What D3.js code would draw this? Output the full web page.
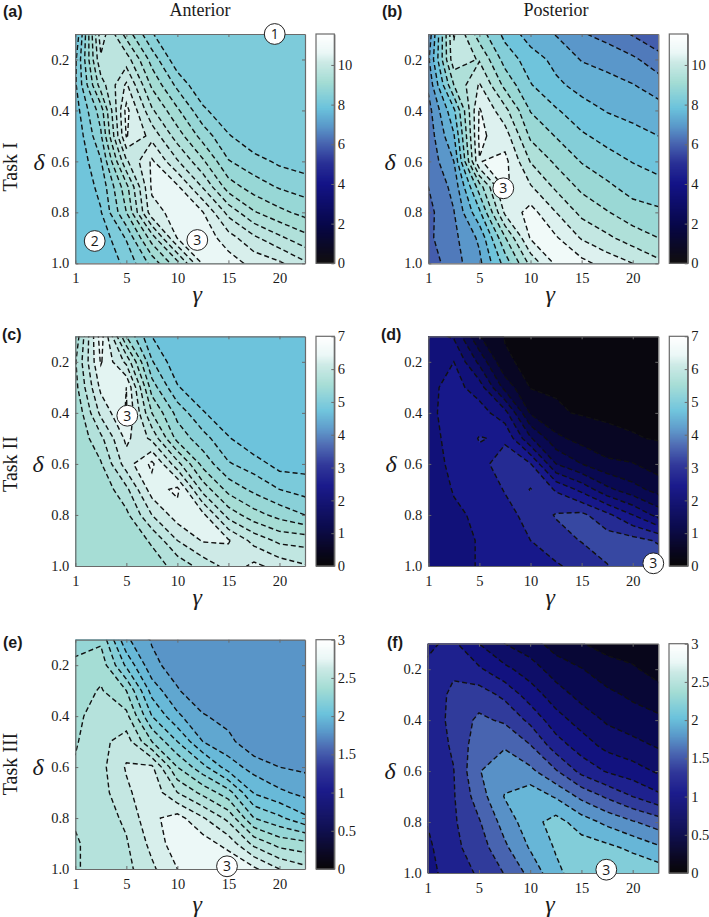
<!DOCTYPE html>
<html><head><meta charset="utf-8">
<script src="https://cdn.jsdelivr.net/npm/d3@7"></script>
<style>html,body{margin:0;padding:0;background:#fff}svg{display:block}text{font-family:"Liberation Serif",serif;fill:#1a1a1a}</style>
</head><body><svg id="c" width="709" height="917"></svg>
<script>
const gammaGrid=[1,2.5,5,7.5,10,12.5,15,17.5,20,22.5];
const deltaGrid=[0.1,0.2,0.3,0.4,0.5,0.6,0.7,0.8,0.9,1.0];
const gammaTicks=[1,5,10,15,20];
const deltaTicks=[0.2,0.4,0.6,0.8,1.0];

const gridA=[
[7.68,9.98,9.08,8.32,8.03,8.03,8.03,8.03,8.03,8.03],
[7.93,9.75,9.65,8.78,8.09,8.03,8.03,8.03,8.03,8.03],
[7.95,9.35,10.15,9.14,8.52,8.03,8.03,8.03,8.03,8.03],
[7.85,8.75,10.5,9.55,8.95,8.37,8.03,8.03,8.03,8.03],
[7.75,8.55,10.42,10.0,9.35,8.77,8.33,8.05,8.03,8.03],
[7.72,8.27,9.75,10.45,9.83,9.25,8.62,8.42,8.24,8.15],
[7.75,8.08,9.1,10.45,10.45,9.77,9.05,8.75,8.57,8.46],
[7.75,7.98,8.9,10.3,10.5,10.41,9.7,9.23,8.98,8.8],
[7.73,7.8,8.33,9.35,10.42,10.6,10.23,9.86,9.56,9.3],
[7.72,7.78,8.07,8.7,9.4,10.45,10.55,10.3,10.15,9.85]];
const gridB=[
[6.6,10.05,8.75,7.85,7.25,6.97,6.55,6.3,5.95,5.6],
[6.9,9.85,9.45,8.3,7.75,7.35,6.97,6.85,6.6,6.2],
[6.6,9.0,10.05,8.85,8.03,7.6,7.33,7.15,7.02,6.75],
[6.3,7.9,10.55,9.65,8.47,8.05,7.7,7.47,7.35,7.2],
[6.2,7.45,10.6,10.25,8.9,8.47,8.07,7.83,7.65,7.5],
[6.15,7.0,10.48,10.65,9.47,8.9,8.47,8.2,7.98,7.83],
[6.0,6.65,8.75,10.6,10.05,9.4,8.88,8.6,8.3,8.15],
[5.85,6.48,7.9,10.1,10.7,10.0,9.36,9.03,8.72,8.6],
[5.9,6.37,7.1,8.95,10.55,10.55,9.95,9.6,9.25,9.0],
[5.7,6.3,6.88,8.2,9.65,10.6,10.65,10.3,10.0,9.62]];
const gridC=[
[5.45,6.5,5.4,4.8,4.62,4.62,4.62,4.62,4.62,4.62],
[5.58,6.42,5.95,5.02,4.65,4.62,4.62,4.62,4.62,4.62],
[5.53,6.25,6.4,5.3,4.82,4.62,4.62,4.62,4.62,4.62],
[5.42,6.05,6.42,5.6,5.13,4.82,4.62,4.62,4.62,4.62],
[5.42,5.75,6.25,5.95,5.33,5.08,4.82,4.62,4.62,4.62],
[5.42,5.58,6.1,6.45,5.87,5.33,5.02,4.9,4.72,4.72],
[5.42,5.45,5.75,6.3,6.45,5.72,5.33,5.15,5.0,4.92],
[5.42,5.42,5.55,6.0,6.3,6.25,5.72,5.48,5.33,5.2],
[5.42,5.42,5.45,5.63,6.0,6.22,6.22,5.93,5.75,5.72],
[5.42,5.42,5.42,5.5,5.67,5.88,6.07,6.25,6.12,6.02]];
const gridD=[
[1.95,1.75,0.62,0.18,0.1,0.1,0.06,0.05,0.05,0.05],
[2.0,2.2,1.3,0.25,0.12,0.12,0.08,0.07,0.06,0.06],
[2.09,2.35,2.0,0.85,0.18,0.17,0.11,0.1,0.09,0.08],
[2.1,2.38,2.38,1.95,0.55,0.24,0.17,0.15,0.14,0.12],
[2.07,2.33,2.62,2.55,1.45,0.7,0.45,0.28,0.22,0.18],
[2.05,2.28,2.5,2.75,2.62,1.4,1.0,0.7,0.62,0.4],
[2.0,2.22,2.3,2.63,3.02,2.55,2.08,1.5,1.15,0.85],
[2.0,2.15,2.25,2.45,2.75,3.03,3.1,2.7,2.2,1.65],
[2.0,2.1,2.22,2.35,2.6,2.85,3.02,3.2,3.15,2.95],
[2.0,2.05,2.23,2.3,2.35,2.55,2.75,2.98,3.3,3.3]];
const gridE=[
[2.26,2.28,1.92,1.79,1.72,1.72,1.72,1.72,1.72,1.72],
[2.32,2.36,2.08,1.83,1.75,1.72,1.72,1.72,1.72,1.72],
[2.35,2.41,2.3,1.96,1.81,1.72,1.72,1.72,1.72,1.72],
[2.38,2.44,2.43,2.1,1.92,1.81,1.76,1.72,1.72,1.72],
[2.39,2.47,2.55,2.3,2.1,1.9,1.83,1.72,1.72,1.72],
[2.41,2.47,2.61,2.62,2.3,2.13,1.95,1.86,1.8,1.78],
[2.42,2.46,2.58,2.67,2.5,2.37,2.24,1.99,1.92,1.87],
[2.41,2.45,2.52,2.68,2.74,2.61,2.47,2.2,2.12,2.02],
[2.39,2.44,2.49,2.63,2.76,2.75,2.66,2.47,2.36,2.33],
[2.39,2.44,2.47,2.58,2.7,2.82,2.8,2.72,2.6,2.53]];
const gridF=[
[0.97,1.04,0.8,0.6,0.48,0.32,0.21,0.13,0.12,0.1],
[1.03,1.15,1.03,0.85,0.7,0.5,0.41,0.28,0.22,0.14],
[1.03,1.26,1.3,1.15,0.9,0.7,0.53,0.45,0.36,0.26],
[1.05,1.27,1.44,1.37,1.15,0.88,0.72,0.57,0.5,0.45],
[1.06,1.23,1.52,1.58,1.41,1.1,0.9,0.74,0.66,0.58],
[1.05,1.19,1.59,1.72,1.65,1.42,1.14,0.98,0.89,0.77],
[1.04,1.18,1.5,1.81,1.93,1.78,1.55,1.37,1.2,1.05],
[1.01,1.17,1.38,1.68,1.92,2.08,1.9,1.75,1.62,1.5],
[0.96,1.15,1.3,1.56,1.82,2.02,2.1,2.05,1.95,1.83],
[0.92,1.12,1.22,1.41,1.66,1.95,2.12,2.18,2.18,2.12]];

const levelsA=[7.7,8.0,8.3,8.6,8.9,9.2,9.5,9.8,10.1,10.4];
const levelsB=[6,6.5,7,7.5,8,8.5,9,9.5,10,10.5];
const levelsC=[4.8,5,5.2,5.4,5.6,5.8,6,6.2,6.4];
const levelsD=[0.2,0.6,1,1.4,1.8,2.2,2.6,3];
const levelsE=[1.8,1.9,2,2.1,2.2,2.3,2.4,2.5,2.6,2.7];
const levelsF=[0.2,0.4,0.6,0.8,1,1.2,1.4,1.6,1.8,2];

const colorStops=[0,0.06,0.17,0.35,0.44,0.53,0.6,0.68,0.79,0.88,0.92,1];
const colorValues=["#0a0808","#08061c","#08084a","#141488","#2a3196","#4a68b2","#5a98ca","#6cc3dc","#a3dcd4","#cdeae6","#eaf7f6","#ffffff"];
const barTicksA=[0,2,4,6,8,10];
const barTicksC=[0,1,2,3,4,5,6,7];
const barTicksE=[0,0.5,1,1.5,2,2.5,3];

const panels=[
{tag:"(a)",tx:3,ty:17,grid:gridA,levels:levelsA,max:11.56,bar:barTicksA,x0:75.3,x1:305,y0:34,y1:263.3,bx0:316,bx1:334.3,dl:39,gy:39,marks:[["1",274.7,34],["2",94.7,241],["3",197.3,240]]},
{tag:"(b)",tx:382,ty:17,grid:gridB,levels:levelsB,max:11.56,bar:barTicksA,x0:428.3,x1:658.3,y0:34,y1:263.3,bx0:669.3,bx1:687.7,dl:390,gy:39,marks:[["3",503.3,188.3]]},
{tag:"(c)",tx:2,ty:340,grid:gridC,levels:levelsC,max:7,bar:barTicksC,x0:75.3,x1:305,y0:336.3,y1:566,bx0:316,bx1:334.3,dl:38,gy:39,marks:[["3",127.3,415.7]]},
{tag:"(d)",tx:381,ty:340,grid:gridD,levels:levelsD,max:7,bar:barTicksC,x0:428.3,x1:658.3,y0:336.3,y1:566,bx0:669.3,bx1:687.7,dl:391,gy:39,marks:[["3",653.3,563.3]]},
{tag:"(e)",tx:3,ty:648,grid:gridE,levels:levelsE,max:3,bar:barTicksE,x0:75.3,x1:305,y0:639.7,y1:869,bx0:316,bx1:334.3,dl:38,gy:43,marks:[["3",227,866.3]]},
{tag:"(f)",tx:387,ty:648,grid:gridF,levels:levelsF,max:3,bar:barTicksE,x0:427.7,x1:658.3,y0:643.7,y1:873,bx0:669,bx1:687.7,dl:390,gy:39,marks:[["3",606.3,869.7]]}
];

const svg=d3.select("#c");
const ramp=d3.scaleLinear().domain(colorStops).range(colorValues).clamp(true);
const frame="#6a6a6a";
panels.forEach((p,pi)=>{
  const g=svg.append("g");
  const x=d3.scaleLinear().domain([0,gammaGrid.length-1]).range([p.x0,p.x1]);
  const y=d3.scaleLinear().domain([0,deltaGrid.length-1]).range([p.y0,p.y1]);
  const flat=p.grid.flat();
  const nx=gammaGrid.length, ny=deltaGrid.length;
  const proj=d3.geoTransform({point(a,b){this.stream.point(x(a-0.5),y(b-0.5));}});
  const path=d3.geoPath(proj);
  const step=p.levels[1]-p.levels[0];
  const col=v=>ramp(v/p.max);
  const id="clip"+pi;
  svg.append("clipPath").attr("id",id).append("rect").attr("x",p.x0).attr("y",p.y0).attr("width",p.x1-p.x0).attr("height",p.y1-p.y0);
  const plot=g.append("g").attr("clip-path",`url(#${id})`);
  plot.append("rect").attr("x",p.x0).attr("y",p.y0).attr("width",p.x1-p.x0).attr("height",p.y1-p.y0).attr("fill",col(p.levels[0]-step*0.15));
  const conts=d3.contours().size([nx,ny]).thresholds(p.levels)(flat);
  plot.selectAll("path.f").data(conts).join("path").attr("class","f").attr("d",path)
    .attr("fill",d=>col(d.value+step*0.85)).attr("stroke","none");
  plot.selectAll("path.l").data(conts).join("path").attr("class","l").attr("d",path)
    .attr("fill","none").attr("stroke","#111").attr("stroke-width",1.4).attr("stroke-dasharray","5,3");

  const gi=gammaTicks.map(v=>gammaGrid.indexOf(v));
  const di=deltaTicks.map(v=>deltaGrid.indexOf(v));
  const style=(s)=>{s.selectAll(".domain").attr("stroke",frame).attr("stroke-width",1.2);
    s.selectAll(".tick line").attr("stroke",frame);
    s.selectAll("text").attr("font-size",14.5).style("font-family",'"Liberation Serif",serif').style("fill","#1a1a1a");};
  g.append("g").attr("transform",`translate(0,${p.y1})`).call(d3.axisBottom(x).tickValues(gi).tickFormat(i=>gammaGrid[i]).tickSizeInner(-3).tickSizeOuter(0).tickPadding(9.5)).call(style);
  g.append("g").attr("transform",`translate(0,${p.y0})`).call(d3.axisTop(x).tickValues(gi).tickFormat("").tickSizeInner(-3).tickSizeOuter(0)).call(style);
  g.append("g").attr("transform",`translate(${p.x0},0)`).call(d3.axisLeft(y).tickValues(di).tickFormat(i=>deltaGrid[i].toFixed(1)).tickSizeInner(-3).tickSizeOuter(0).tickPadding(6)).call(style);
  g.append("g").attr("transform",`translate(${p.x1},0)`).call(d3.axisRight(y).tickValues(di).tickFormat("").tickSizeInner(-3).tickSizeOuter(0)).call(style);

  const by=d3.scaleLinear().domain([0,p.max]).range([p.y1,p.y0]);
  const barVals=d3.range(0,230);
  g.append("g").selectAll("rect").data(barVals).join("rect")
    .attr("x",p.bx0).attr("width",p.bx1-p.bx0)
    .attr("y",i=>by((i+1)/230*p.max)).attr("height",i=>by(i/230*p.max)-by((i+1)/230*p.max)+0.6)
    .attr("fill",i=>ramp((i+0.5)/230));
  g.append("g").attr("transform",`translate(${p.bx1},0)`).call(d3.axisRight(by).tickValues(p.bar).tickFormat(d=>d).tickSizeInner(-3).tickSizeOuter(0).tickPadding(3.5)).call(style);
  g.append("rect").attr("x",p.bx0).attr("y",p.y0).attr("width",p.bx1-p.bx0).attr("height",p.y1-p.y0).attr("fill","none").attr("stroke",frame).attr("stroke-width",1.2);

  g.append("text").attr("x",(p.x0+p.x1)/2+7).attr("y",p.y1+p.gy).attr("text-anchor","middle").attr("font-size",24).attr("font-style","italic").text("γ");
  g.append("text").attr("x",p.dl).attr("y",(p.y0+p.y1)/2+21).attr("text-anchor","middle").attr("font-size",24).attr("font-style","italic").text("δ");
  g.append("text").attr("x",p.tx).attr("y",p.ty).attr("font-size",16).attr("font-weight","bold").style("font-family",'"Liberation Sans",sans-serif').text(p.tag);
  p.marks.forEach(m=>{
    g.append("circle").attr("cx",m[1]).attr("cy",m[2]).attr("r",10.4).attr("fill","#fff").attr("stroke","#222").attr("stroke-width",1);
    g.append("text").attr("x",m[1]).attr("y",m[2]+5).attr("text-anchor","middle").attr("font-size",14).style("font-family",'"Open Sans",sans-serif').text(m[0]);
  });
});
const title=(t,x,y)=>svg.append("text").attr("x",x).attr("y",y).attr("text-anchor","middle").attr("font-size",18).text(t);
title("Anterior",200,16);title("Posterior",556,16);
[["Task I",167],["Task II",464],["Task III",764]].forEach(d=>{
  svg.append("text").attr("transform",`translate(17,${d[1]}) rotate(-90)`).attr("text-anchor","middle").attr("font-size",20).text(d[0]);
});
</script></body></html>
